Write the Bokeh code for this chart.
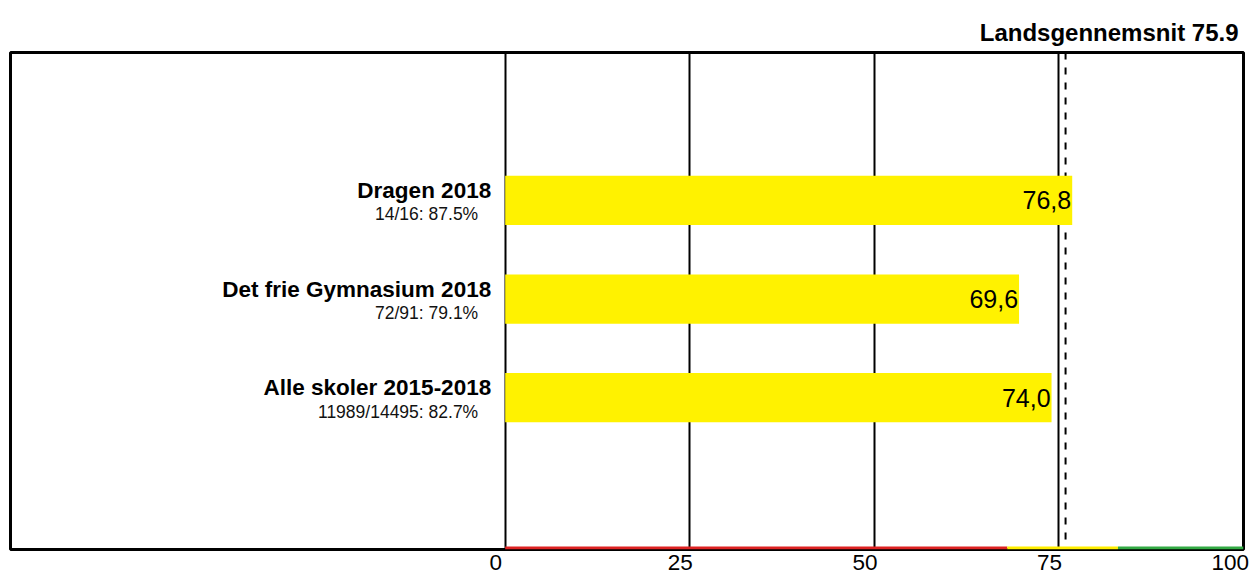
from bokeh.plotting import figure
from bokeh.models import FixedTicker, Span, Range1d, ColumnDataSource
from bokeh.core.properties import value
from bokeh.embed import file_html
from bokeh.resources import INLINE

# ---- data ----
names = ["Dragen 2018", "Det frie Gymnasium 2018", "Alle skoler 2015-2018"]
subs = ["14/16: 87.5%", "72/91: 79.1%", "11989/14495: 82.7%"]
scores = [76.8, 69.6, 74.0]
national_avg = 75.9
x_ticks = [0, 25, 50, 75, 100]
grid_ticks = [0, 25, 50, 75]
band_starts = [0, 68, 83]
band_ends = [68, 83, 100]
band_colors = ["#dd2222", "#ffee00", "#33aa44"]

FONT = "Liberation Sans"

ypos = [3.5, 2.5, 1.5]
src = ColumnDataSource(dict(
    y=ypos, score=scores, name=names, sub=subs,
    label=[f"{v:.1f}".replace(".", ",") for v in scores],
))

p = figure(width=1253, height=577, output_backend="svg", toolbar_location=None,
           x_range=Range1d(-67, 100), y_range=Range1d(-0.04, 5),
           y_axis_location=None, min_border_left=10, min_border_right=10,
           min_border_top=52, min_border_bottom=28,
           title=f"Landsgennemsnit {national_avg}")

p.title.align = "right"
p.title.vertical_align = "top"
p.title.text_font = FONT
p.title.text_font_size = "24px"
p.title.text_font_style = "bold"
p.title.text_color = "black"
p.title.offset = 5
p.title.standoff = 10

p.outline_line_color = "black"
p.outline_line_width = 3
p.outline_line_alpha = 1

p.ygrid.visible = False
p.xgrid.ticker = FixedTicker(ticks=grid_ticks)
p.xgrid.grid_line_color = "black"
p.xgrid.grid_line_width = 2
p.xgrid.grid_line_alpha = 1

p.xaxis.ticker = FixedTicker(ticks=x_ticks)
overrides = {t: f"{t}\u2007\u2008" for t in x_ticks[:-1]}
overrides[x_ticks[-1]] = f"{x_ticks[-1]}\u2009"
p.xaxis.major_label_overrides = overrides
p.xaxis.axis_line_color = None
p.xaxis.major_tick_line_color = None
p.xaxis.minor_tick_line_color = None
p.xaxis.major_tick_in = 0
p.xaxis.major_tick_out = 0
p.xaxis.minor_tick_in = 0
p.xaxis.minor_tick_out = 0
p.xaxis.major_label_text_font = FONT
p.xaxis.major_label_text_font_size = "22.5px"
p.xaxis.major_label_text_color = "black"
p.xaxis.major_label_standoff = 0

avg = Span(location=national_avg, dimension="height", line_color="black",
           line_width=2, line_dash="7 8", level="underlay")
p.add_layout(avg)

p.hbar(y="y", left=0, right="score", height=0.5, source=src,
       fill_color="#fff200", line_color=None)

p.text(x="score", y="y", text="label", source=src, text_align="right",
       text_baseline="middle", x_offset=-1, text_font=value(FONT),
       text_font_size="25px", text_color="black")

p.text(x=0, y="y", text="name", source=src, text_align="right",
       text_baseline="middle", x_offset=-14, y_offset=-10,
       text_font=value(FONT), text_font_size="22.5px",
       text_font_style="bold", text_color="black")
p.text(x=0, y="y", text="sub", source=src, text_align="right",
       text_baseline="middle", x_offset=-27, y_offset=14,
       text_font=value(FONT), text_font_size="17.5px", text_color="#111111")

band_y = [-0.025] * len(band_starts)
p.segment(x0=band_starts, y0=band_y, x1=band_ends, y1=band_y,
          line_color=band_colors, line_width=3)

open("out.html", "w").write(file_html(p, INLINE))
